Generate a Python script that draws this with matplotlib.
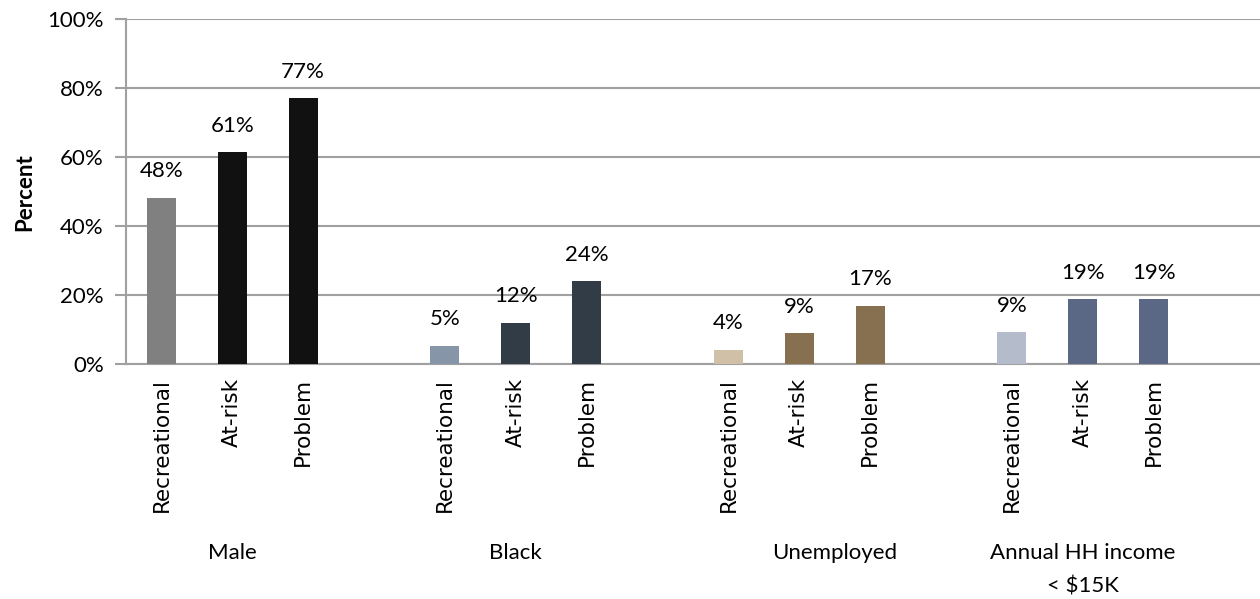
import numpy as np
import matplotlib
matplotlib.use("Agg")
import matplotlib.pyplot as plt
from matplotlib.ticker import PercentFormatter
import matplotlib.transforms as mtransforms

# donnees
groups = ["Male", "Black", "Unemployed", "Annual HH income\n< $15K"]
levels = ["Recreational", "At-risk", "Problem"]
male = [48.3, 61.4, 77.1]
black = [5.4, 11.9, 24.0]
unemployed = [4.2, 8.9, 17.0]
income = [9.2, 18.8, 18.8]
value_labels = ["48%", "61%", "77%", "5%", "12%", "24%", "4%", "9%", "17%", "9%", "19%", "19%"]
colors = ["#808080", "#111111", "#111111",
          "#8696a8", "#323c46", "#323c46",
          "#d0c0a8", "#877050", "#877050",
          "#b4bccc", "#5a6886", "#5a6886"]

values = male + black + unemployed + income
pos = np.array([0, 1, 2, 4, 5, 6, 8, 9, 10, 12, 13, 14])
group_pos = [1, 5, 9.5, 13]

fig = plt.figure(figsize=(12.6, 5.99), dpi=100)
ax = fig.add_axes([0.1, 0.392, 0.9, 0.576])

ax.bar(pos, values, width=0.41, color=colors, zorder=3)
ax.set_xlim(-0.5, 15.5)
ax.set_ylim(0, 100)
ax.set_yticks(np.arange(0, 101, 20))
ax.yaxis.set_major_formatter(PercentFormatter(decimals=0))
ax.grid(axis="y", color="#a0a0a0", linewidth=1.5, zorder=0)
ax.tick_params(axis="y", length=8, color="#a0a0a0", width=1.5, labelsize=16, pad=8)
for lab in ax.get_yticklabels():
    lab.set_family("Lato")

for s in ["top", "right"]:
    ax.spines[s].set_visible(False)
for s in ["left", "bottom"]:
    ax.spines[s].set_color("#a0a0a0")
    ax.spines[s].set_linewidth(1.5)

ax.set_xticks(pos)
ax.set_xticklabels(levels * 4, rotation=90)
ax.tick_params(axis="x", length=0, pad=10)
for lab in ax.get_xticklabels():
    lab.set_family("DejaVu Sans")
    lab.set_fontsize(15.5)

for x, v, t in zip(pos, values, value_labels):
    ax.annotate(t, (x, v), xytext=(0, 12), textcoords="offset points",
                ha="center", va="bottom", fontsize=16, family="Lato")

ax.set_ylabel("Percent", fontsize=16, fontweight="bold", family="Lato", labelpad=9)

trans = mtransforms.blended_transform_factory(ax.transData, fig.transFigure)
for gx, g in zip(group_pos, groups):
    ax.text(gx, 1 - 543 / 599, g, transform=trans, ha="center", va="top",
            fontsize=16, family="Lato", linespacing=1.85)

fig.savefig("out.png", dpi=100)
